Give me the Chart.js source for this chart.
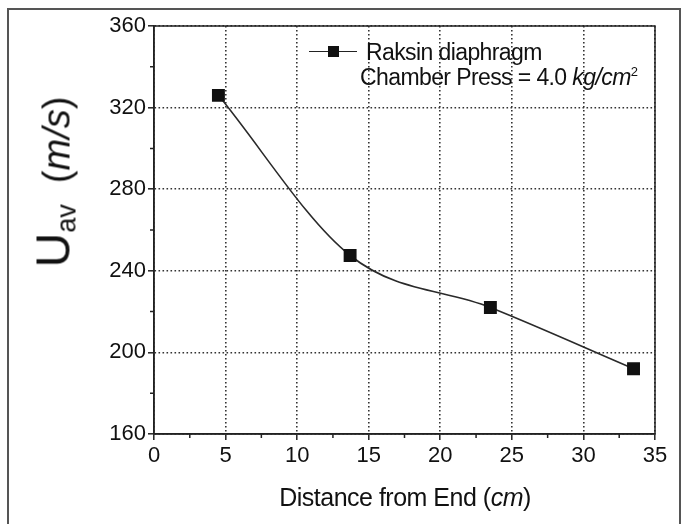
<!DOCTYPE html>
<html>
<head>
<meta charset="utf-8">
<script src="https://cdn.jsdelivr.net/npm/chart.js@4"></script>
<style>
  html, body { margin: 0; padding: 0; background: #fff; }
  #wrap { position: relative; width: 686px; height: 524px; overflow: hidden; font-family: "Liberation Sans", Arial, sans-serif; color: #111; }
  #frame { position: absolute; left: 7px; top: 8px; width: 670px; height: 540px; border: 2px solid #555; }
  canvas { position: absolute; left: 0; top: 0; }
  .txt { position: absolute; white-space: nowrap; }
</style>
</head>
<body>
<div id="wrap">
  <div id="frame"></div>
  <canvas id="c" width="686" height="524"></canvas>
  <div class="txt" id="ytitle" style="left:55px; top:182px; transform: translate(-50%,-50%) rotate(-90deg); line-height:1;">
    <span style="font-size:48px">U</span><sub style="font-size:27px; vertical-align:-6px">av</sub><span style="font-size:38px">&nbsp;&nbsp;(<i>m/s</i>)</span>
  </div>
  <div class="txt" style="left:405px; top:497px; transform: translate(-50%,-50%); font-size:25px; letter-spacing:-0.5px;">Distance from End (<i>cm</i>)</div>
  <div class="txt" style="left:309px; top:51px; width:48px; height:0; border-top:1.5px solid #222;"></div>
  <div class="txt" style="left:328px; top:46px; width:11px; height:11px; background:#111;"></div>
  <div class="txt" style="left:366px; top:52px; transform: translateY(-50%); font-size:23px; letter-spacing:-0.6px;">Raksin diaphragm</div>
  <div class="txt" style="left:360px; top:77px; transform: translateY(-50%); font-size:23px; letter-spacing:-0.6px;">Chamber Press = 4.0 <i>kg/cm</i><sup style="font-size:13px">2</sup></div>
</div>
<script>
const distance = [4.5, 13.7, 23.5, 33.5];
const velocity = [326, 247.5, 222, 192];
const xTicks = [0, 5, 10, 15, 20, 25, 30, 35];
const yTicks = [160, 200, 240, 280, 320, 360];
const xMinor = [2.5, 7.5, 12.5, 17.5, 22.5, 27.5, 32.5];
const yMinor = [180, 220, 260, 300, 340];

const framePlugin = {
  id: 'frameTicks',
  afterDraw(chart) {
    const {ctx, chartArea: a, scales: {x, y}} = chart;
    ctx.save();
    ctx.strokeStyle = '#222';
    ctx.lineWidth = 1.5;
    ctx.strokeRect(a.left, a.top, a.right - a.left, a.bottom - a.top);
    ctx.beginPath();
    xMinor.forEach(v => {
      const px = x.getPixelForValue(v);
      ctx.moveTo(px, a.bottom); ctx.lineTo(px, a.bottom + 4);
    });
    yMinor.forEach(v => {
      const py = y.getPixelForValue(v);
      ctx.moveTo(a.left, py); ctx.lineTo(a.left - 4, py);
    });
    ctx.stroke();
    ctx.restore();
  }
};

const tickFont = {family: '"Liberation Sans", Arial, sans-serif', size: 22};

new Chart(document.getElementById('c'), {
  type: 'line',
  data: {
    datasets: [{
      label: 'Raksin diaphragm',
      data: distance.map((d, i) => ({x: d, y: velocity[i]})),
      borderColor: '#2a2a2a',
      borderWidth: 1.6,
      cubicInterpolationMode: 'monotone',
      pointStyle: 'rect',
      pointRadius: 8,
      pointBackgroundColor: '#111',
      pointBorderColor: '#111',
      fill: false
    }]
  },
  options: {
    responsive: false,
    animation: false,
    events: [],
    layout: {padding: {left: 0, top: 26, right: 31, bottom: 0}},
    plugins: {legend: {display: false}, tooltip: {enabled: false}},
    scales: {
      x: {
        type: 'linear', min: 0, max: 35,
        afterBuildTicks: s => { s.ticks = xTicks.map(v => ({value: v})); },
        afterFit: s => { s.height = 90; },
        ticks: {font: tickFont, color: '#111', padding: 3},
        grid: {color: '#333', lineWidth: 1.6, tickColor: '#222', tickLength: 6, tickWidth: 1.5},
        border: {display: true, color: '#222', width: 1.5, dash: [1.6, 2.4]}
      },
      y: {
        type: 'linear', min: 160, max: 360,
        afterBuildTicks: s => { s.ticks = yTicks.map(v => ({value: v})); },
        afterFit: s => { s.width = 154; },
        ticks: {font: tickFont, color: '#111', padding: 2},
        grid: {color: '#333', lineWidth: 1.6, tickColor: '#222', tickLength: 6, tickWidth: 1.5},
        border: {display: true, color: '#222', width: 1.5, dash: [1.6, 2.4]}
      }
    }
  },
  plugins: [framePlugin]
});
</script>
</body>
</html>
